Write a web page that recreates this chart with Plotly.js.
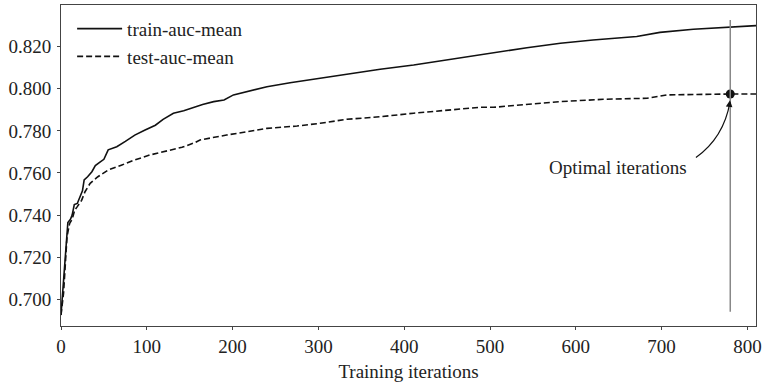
<!DOCTYPE html>
<html>
<head>
<meta charset="utf-8">
<script src="https://cdn.plot.ly/plotly-3.0.1.min.js"></script>
<style>html,body{margin:0;padding:0;background:#fff;}#chart{width:763px;height:386px;}</style>
</head>
<body>
<div id="chart"></div>
<script>
// Data
const trainIter = [0,2,5,8,11,13,15.5,19,22,25,27,31,36,40,45,50,55,65,75,86,98,110,119,131,143,156,165,178,190,201,216,240,267,302,333,372,411,450,488,504,543,582,620,671,698,737,780,810];
const trainAuc  = [0.6925,0.705,0.720,0.7365,0.738,0.740,0.745,0.7455,0.749,0.7515,0.7567,0.7582,0.7606,0.7635,0.765,0.7665,0.771,0.7725,0.775,0.778,0.7804,0.7827,0.7855,0.7884,0.7896,0.7915,0.7925,0.7939,0.7947,0.7971,0.7986,0.801,0.8029,0.805,0.807,0.8093,0.8113,0.8137,0.8162,0.8172,0.8195,0.8216,0.8232,0.8248,0.8268,0.8283,0.8292,0.830];
const testIter  = [0,3,7,10,13,16,19,24,28,34,43,55,71,86,104,121,141,156,162,193,216,240,275,302,333,372,411,450,488,504,543,582,632,683,706,745,780,810];
const testAuc   = [0.6925,0.703,0.7297,0.736,0.738,0.7424,0.744,0.747,0.7511,0.7551,0.7582,0.7614,0.7638,0.7662,0.7686,0.7701,0.7722,0.7744,0.7757,0.778,0.7796,0.7812,0.7823,0.7836,0.7855,0.7867,0.7884,0.7899,0.7912,0.7912,0.7926,0.7939,0.795,0.7955,0.7971,0.7974,0.7975,0.7975];
const optimalIter = [780];
const optimalAuc  = [0.7975];
const seriesNames = ["train-auc-mean", "test-auc-mean"];
const xTicks = [0,100,200,300,400,500,600,700,800];
const yTicks = [0.700,0.720,0.740,0.760,0.780,0.800,0.820];
const annotationText = "Optimal iterations";
const xTitle = "Training iterations";

const FONT = "Liberation Serif, Times New Roman, serif";
const FS = 19;

const traces = [
  {x: trainIter, y: trainAuc, type: "scatter", mode: "lines", name: seriesNames[0],
   line: {color: "#111", width: 1.6}},
  {x: testIter, y: testAuc, type: "scatter", mode: "lines", name: seriesNames[1],
   line: {color: "#111", width: 1.6, dash: "6px,3px"}},
  {x: optimalIter, y: optimalAuc, type: "scatter", mode: "markers", showlegend: false,
   marker: {color: "#111", size: 9}}
];

const layout = {
  width: 763, height: 386,
  margin: {l: 61, r: 7, t: 5, b: 60},
  paper_bgcolor: "#fff", plot_bgcolor: "#fff",
  font: {family: FONT, size: FS, color: "#222"},
  showlegend: true,
  legend: {x: 0.016, y: 0.985, xanchor: "left", yanchor: "top", bgcolor: "rgba(0,0,0,0)",
           font: {family: FONT, size: FS, color: "#222"}, itemwidth: 45},
  xaxis: {range: [0, 810], tickvals: xTicks, ticktext: xTicks.map(String),
          showgrid: false, zeroline: false, showline: true, linecolor: "#444", linewidth: 1,
          mirror: true, ticks: "outside", ticklen: 3, tickcolor: "#444",
          title: {text: xTitle, font: {family: FONT, size: FS, color: "#222"}, standoff: 8},
          tickfont: {family: FONT, size: FS, color: "#222"}},
  yaxis: {range: [0.6873, 0.8398], tickvals: yTicks, ticktext: yTicks.map(v => v.toFixed(3)),
          showgrid: false, zeroline: false, showline: true, linecolor: "#444", linewidth: 1,
          mirror: true, ticks: "outside", ticklen: 3, tickcolor: "#444", ticklabelstandoff: 2,
          tickfont: {family: FONT, size: FS, color: "#222"}},
  shapes: [
    {type: "line", xref: "x", yref: "y", x0: optimalIter[0], x1: optimalIter[0], y0: 0.6941, y1: 0.8327,
     line: {color: "#888", width: 1.5}},
    {type: "path", xref: "x", yref: "y",
     path: "M 740,0.7673 Q 772.3,0.7767 779.6,0.7935",
     line: {color: "#111", width: 1.2}}
  ],
  annotations: [
    {x: 649, y: 0.7625, xref: "x", yref: "y", text: annotationText, showarrow: false,
     font: {family: FONT, size: FS, color: "#222"}},
    {x: 779.7, y: 0.7945, ax: 778.7, ay: 0.7915, xref: "x", yref: "y", axref: "x", ayref: "y",
     text: "", showarrow: true, arrowhead: 2, arrowsize: 1.1, arrowwidth: 1.2, arrowcolor: "#111"}
  ]
};

Plotly.newPlot("chart", traces, layout, {displayModeBar: false, staticPlot: true});
</script>
</body>
</html>
